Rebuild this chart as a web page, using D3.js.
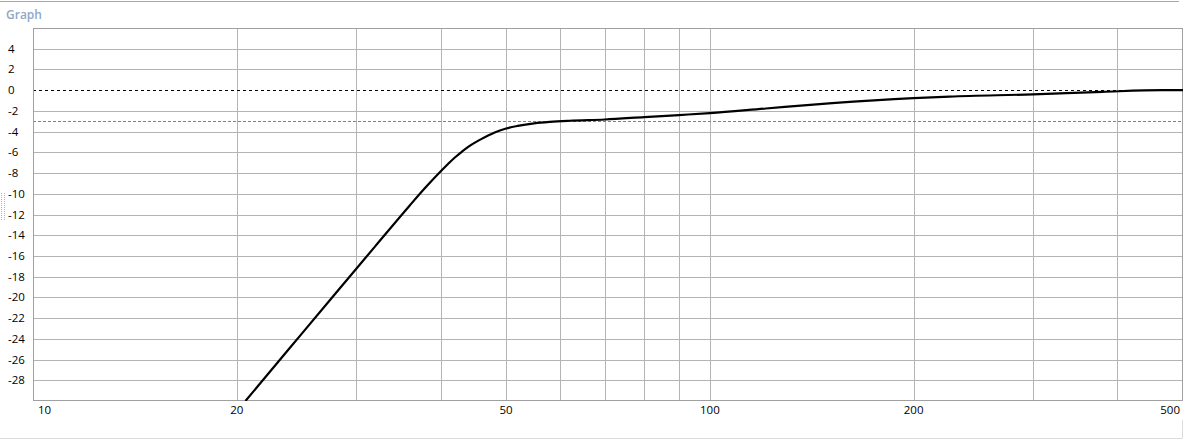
<!DOCTYPE html>
<html>
<head>
<meta charset="utf-8">
<script src="https://cdn.jsdelivr.net/npm/d3@7"></script>
<style>
html,body{margin:0;padding:0;background:#fff;}
svg{display:block;font-family:"Open Sans","Noto Sans","DejaVu Sans",sans-serif;}
</style>
</head>
<body>
<svg id="chart" width="1189" height="441"></svg>
<script>
// ---- data ----
const freqs = [20.6, 24, 28, 32, 36, 38, 40, 41, 42, 43, 44, 46, 48, 50, 52, 55, 58, 62, 70, 80, 90, 100, 121, 151.6, 200, 226, 300, 380, 466, 500];
const gains = [-30, -24.82, -19.6, -15.1, -11.15, -9.4, -7.85, -7.15, -6.5, -5.95, -5.45, -4.7, -4.1, -3.7, -3.45, -3.2, -3.06, -2.95, -2.83, -2.6, -2.4, -2.22, -1.77, -1.25, -0.77, -0.62, -0.4, -0.16, 0.0, 0.0];
const xGridValues = [20, 30, 40, 50, 60, 70, 80, 90, 100, 200, 300, 400];
const xTickLabels = [10, 20, 50, 100, 200, 500];
const yTickValues = [4, 2, 0, -2, -4, -6, -8, -10, -12, -14, -16, -18, -20, -22, -24, -26, -28];
const refLevels = [0, -3];
const chartTitle = "Graph";

(function () {
// ---- layout ----
const svg = d3.select("#chart");
const pLeft = 33, pRight = 1183, pTop = 28, pBottom = 401;

const x = d3.scaleLog().domain([10, 500]).range([pLeft, pRight]);
const y = d3.scaleLinear().domain([-30, 6]).range([pBottom, pTop]);

// panel frame lines
svg.append("line").attr("x1", 0).attr("x2", 1179).attr("y1", 1.5).attr("y2", 1.5)
  .attr("stroke", "#a8a8a8").attr("stroke-width", 1);
svg.append("line").attr("x1", 0).attr("x2", 1182).attr("y1", 438.5).attr("y2", 438.5)
  .attr("stroke", "#dcdcdc").attr("stroke-width", 1);
svg.append("line").attr("x1", 1182.5).attr("x2", 1182.5).attr("y1", 420).attr("y2", 438.5)
  .attr("stroke", "#dcdcdc").attr("stroke-width", 1);
// splitter grip
svg.append("line").attr("x1", 1.5).attr("x2", 1.5).attr("y1", 193).attr("y2", 221)
  .attr("stroke", "#b8b8b8").attr("stroke-dasharray", "1,1");
svg.append("line").attr("x1", 4.5).attr("x2", 4.5).attr("y1", 193).attr("y2", 221)
  .attr("stroke", "#b8b8b8").attr("stroke-dasharray", "1,1");

svg.append("text").attr("x", 6).attr("y", 19).text(chartTitle)
  .attr("fill", "#90a8c4").attr("font-size", 12).attr("font-weight", 600);

// grid
const g = svg.append("g");
g.selectAll("line.vg").data(xGridValues).join("line").attr("class", "vg")
  .attr("x1", d => Math.round(x(d)) + 0.5).attr("x2", d => Math.round(x(d)) + 0.5)
  .attr("y1", pTop).attr("y2", pBottom)
  .attr("stroke", "#b4b4b4").attr("stroke-width", 1);
g.selectAll("line.hg").data(yTickValues.filter(v => v !== 0)).join("line").attr("class", "hg")
  .attr("x1", pLeft).attr("x2", pRight)
  .attr("y1", d => Math.round(y(d)) + 0.5).attr("y2", d => Math.round(y(d)) + 0.5)
  .attr("stroke", "#b4b4b4").attr("stroke-width", 1);

// reference lines
g.append("line").attr("x1", pLeft).attr("x2", pRight)
  .attr("y1", Math.round(y(refLevels[0])) + 0.5).attr("y2", Math.round(y(refLevels[0])) + 0.5)
  .attr("stroke", "#000").attr("stroke-width", 1).attr("stroke-dasharray", "3,3");
g.append("line").attr("x1", pLeft).attr("x2", pRight)
  .attr("y1", Math.round(y(refLevels[1])) + 0.5).attr("y2", Math.round(y(refLevels[1])) + 0.5)
  .attr("stroke", "#808080").attr("stroke-width", 1).attr("stroke-dasharray", "3,2");

// plot border
svg.append("rect").attr("x", pLeft + 0.5).attr("y", pTop + 0.5)
  .attr("width", pRight - pLeft - 1).attr("height", pBottom - pTop - 1)
  .attr("fill", "none").attr("stroke", "#a0a0a0").attr("stroke-width", 1);

// clip
svg.append("clipPath").attr("id", "clip").append("rect")
  .attr("x", pLeft).attr("y", pTop).attr("width", pRight - pLeft).attr("height", pBottom - pTop);

// curve
const pts = freqs.map((f, i) => [f, gains[i]]);
const line = d3.line().x(d => x(d[0])).y(d => y(d[1])).curve(d3.curveMonotoneX);
svg.append("path").datum(pts).attr("d", line)
  .attr("clip-path", "url(#clip)")
  .attr("fill", "none").attr("stroke", "#000").attr("stroke-width", 2.2)
  .attr("stroke-linejoin", "round");

// y labels
svg.selectAll("text.yl").data(yTickValues).join("text").attr("class", "yl")
  .attr("x", 8).attr("y", d => y(d)).attr("dy", "0.35em")
  .attr("font-size", 11.5).attr("fill", "#000")
  .text(d => d);

// x labels
svg.selectAll("text.xl").data(xTickLabels).join("text").attr("class", "xl")
  .attr("x", (d, i) => i === 0 ? x(d) + 5 : (i === xTickLabels.length - 1 ? pRight - 3 : x(d)))
  .attr("y", 414)
  .attr("text-anchor", (d, i) => i === 0 ? "start" : (i === xTickLabels.length - 1 ? "end" : "middle"))
  .attr("font-size", 11.5).attr("fill", "#000")
  .text(d => d);
})();
</script>
</body>
</html>
